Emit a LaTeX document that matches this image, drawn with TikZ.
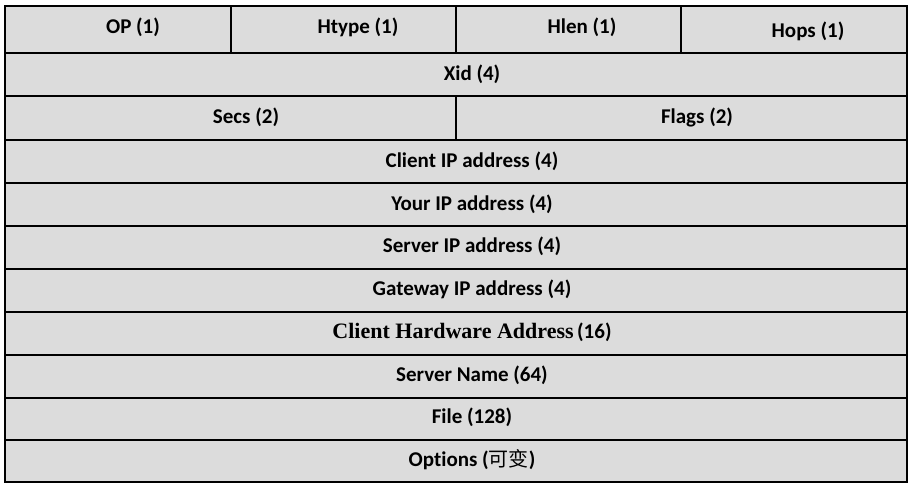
\documentclass[tikz,border=0pt]{standalone}
\usepackage{fontspec}
\setmainfont{Carlito}[Ligatures={NoCommon}]
\newfontfamily\serifbold{Liberation Serif}
\newfontfamily\cjk{Noto Sans CJK SC}
\begin{document}
\begin{tikzpicture}[x=1pt,y=-1pt,
  cell/.style={draw=black,line width=2pt,fill=fieldgray},
  lbl/.style={font=\fontsize{21}{24}\selectfont\bfseries,anchor=center,xshift=16pt,inner sep=0pt}]
\definecolor{fieldgray}{HTML}{DCDCDC}
\useasboundingbox (0,0) rectangle (911,487);
% first row: four one-byte fields
\draw[cell] (5,6) rectangle (231,53);
\draw[cell] (231,6) rectangle (456,53);
\draw[cell] (456,6) rectangle (681,53);
\draw[cell] (681,6) rectangle (907,53);
\node[lbl] (op) at (117,27) {OP (1)};
\node[lbl] (htype) at (342,27) {Htype (1)};
\node[lbl] (hlen) at (566,27) {Hlen (1)};
\node[lbl] (hops) at (792,31) {Hops (1)};
% Xid
\draw[cell] (5,53) rectangle (907,96);
\node[lbl] (xid) at (456,74) {Xid (4)};
% Secs / Flags
\draw[cell] (5,96) rectangle (456,140);
\draw[cell] (456,96) rectangle (907,140);
\node[lbl] (secs) at (230,117) {Secs (2)};
\node[lbl] (flags) at (681,117) {Flags (2)};
% full-width fields
\draw[cell] (5,140) rectangle (907,183);
\node[lbl] (ciaddr) at (456,161) {Client IP address (4)};
\draw[cell] (5,183) rectangle (907,226);
\node[lbl] (yiaddr) at (456,204) {Your IP address (4)};
\draw[cell] (5,226) rectangle (907,269);
\node[lbl] (siaddr) at (456,246) {Server IP address (4)};
\draw[cell] (5,269) rectangle (907,312);
\node[lbl] (giaddr) at (456,289) {Gateway IP address (4)};
\draw[cell] (5,312) rectangle (907,355);
\node[lbl] (chaddr) at (456,332) {{\serifbold\bfseries\fontsize{22}{24}\selectfont Client Hardware Address}\,(16)};
\draw[cell] (5,355) rectangle (907,398);
\node[lbl] (sname) at (456,375) {Server Name (64)};
\draw[cell] (5,398) rectangle (907,440);
\node[lbl] (file) at (456,417) {File (128)};
\draw[cell] (5,440) rectangle (907,482);
\node[lbl] (options) at (456,460) {Options ({\cjk\mdseries\fontsize{20}{24}\selectfont 可变})};
\end{tikzpicture}
\end{document}
